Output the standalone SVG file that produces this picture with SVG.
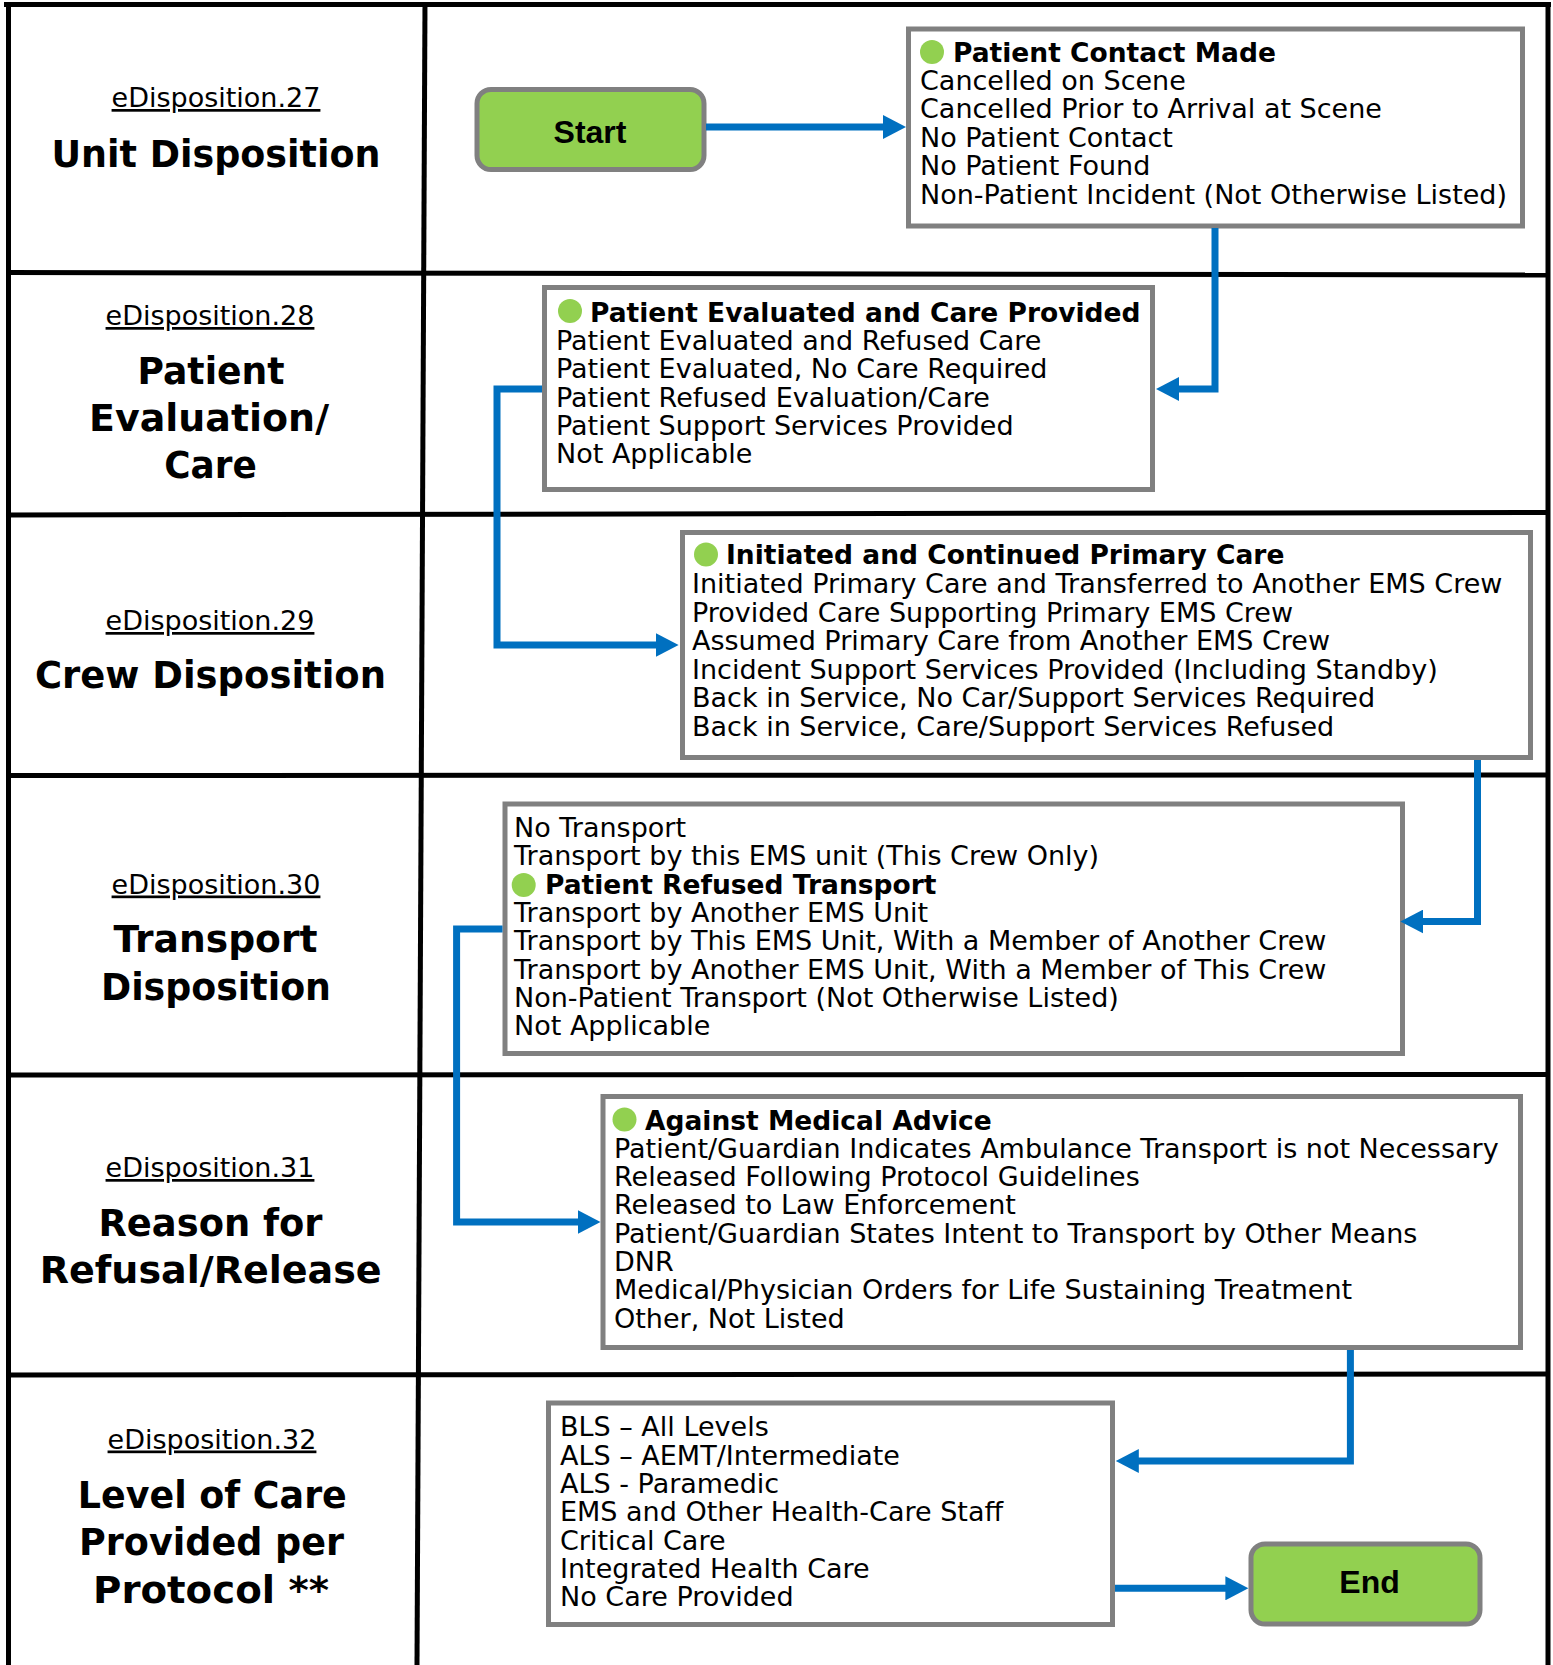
<svg xmlns="http://www.w3.org/2000/svg" width="1553" height="1665" viewBox="0 0 1553 1665">
<style>
.frame{stroke:#000;stroke-width:5;fill:none}
.box{fill:#fff;stroke:#808080;stroke-width:5}
.term{fill:#92D050;stroke:#808080;stroke-width:5}
.t{font-family:"DejaVu Sans","Verdana",sans-serif;font-size:27px;fill:#000}
.b{font-family:"DejaVu Sans","Verdana",sans-serif;font-size:26.5px;font-weight:bold;fill:#000}
.lbl{font-family:"DejaVu Sans","Verdana",sans-serif;font-size:27px;fill:#000;text-anchor:middle;text-decoration:underline}
.ttl{font-family:"DejaVu Sans","Verdana",sans-serif;font-size:37px;font-weight:bold;fill:#000;text-anchor:middle}
.termt{font-family:"Liberation Sans","Arial",sans-serif;font-size:32px;font-weight:bold;fill:#000;text-anchor:middle}
.dot{fill:#92D050}
.conn{fill:none;stroke:#0070C0;stroke-width:7;stroke-linejoin:miter;stroke-linecap:butt;marker-end:url(#ah)}
</style>
<defs>
<marker id="ah" markerUnits="userSpaceOnUse" markerWidth="24" markerHeight="24" refX="13" refY="12" orient="auto" viewBox="0 0 24 24">
<path d="M0,0 L23,12 L0,24 Z" fill="#0070C0"/>
</marker>
</defs>
<rect x="0" y="0" width="1553" height="1665" fill="#fff"/>
<g id="grid">
<line class="frame" x1="4" y1="4.5" x2="1551" y2="4.5"/>
<line class="frame" x1="8.5" y1="2" x2="8.5" y2="1665"/>
<line class="frame" x1="1548" y1="2" x2="1548" y2="1665"/>
<line class="frame" x1="425" y1="2" x2="417" y2="1665"/>
<line class="frame" x1="6" y1="272.5" x2="1550" y2="275"/>
<line class="frame" x1="6" y1="515" x2="1550" y2="512.5"/>
<line class="frame" x1="6" y1="775.5" x2="1550" y2="775"/>
<line class="frame" x1="6" y1="1075" x2="1550" y2="1074.5"/>
<line class="frame" x1="6" y1="1375" x2="1550" y2="1374"/>
</g>
<g id="row-labels">
<text class="lbl" x="216" y="107">eDisposition.27</text>
<text class="ttl" x="216" y="167" textLength="329" lengthAdjust="spacingAndGlyphs">Unit Disposition</text>
<text class="lbl" x="210" y="325">eDisposition.28</text>
<text class="ttl" x="211" y="384" textLength="147" lengthAdjust="spacingAndGlyphs">Patient</text>
<text class="ttl" x="209" y="431" textLength="240" lengthAdjust="spacingAndGlyphs">Evaluation/</text>
<text class="ttl" x="210.5" y="478" textLength="92.5" lengthAdjust="spacingAndGlyphs">Care</text>
<text class="lbl" x="210" y="630">eDisposition.29</text>
<text class="ttl" x="210.5" y="688" textLength="351" lengthAdjust="spacingAndGlyphs">Crew Disposition</text>
<text class="lbl" x="216" y="893.5">eDisposition.30</text>
<text class="ttl" x="215.5" y="952" textLength="204" lengthAdjust="spacingAndGlyphs">Transport</text>
<text class="ttl" x="216" y="1000" textLength="230" lengthAdjust="spacingAndGlyphs">Disposition</text>
<text class="lbl" x="210" y="1177">eDisposition.31</text>
<text class="ttl" x="210.5" y="1236" textLength="224" lengthAdjust="spacingAndGlyphs">Reason for</text>
<text class="ttl" x="210.7" y="1283" textLength="342" lengthAdjust="spacingAndGlyphs">Refusal/Release</text>
<text class="lbl" x="212" y="1448.5">eDisposition.32</text>
<text class="ttl" x="212.3" y="1508" textLength="269" lengthAdjust="spacingAndGlyphs">Level of Care</text>
<text class="ttl" x="211.5" y="1555" textLength="265" lengthAdjust="spacingAndGlyphs">Provided per</text>
<text class="ttl" x="211" y="1603" textLength="236" lengthAdjust="spacingAndGlyphs">Protocol **</text>
</g>
<g id="start">
<rect class="term" x="477" y="89.5" width="227" height="80" rx="14"/>
<text class="termt" x="590" y="142.5">Start</text>
</g>
<g id="unit-disposition">
<rect class="box" x="908.5" y="29" width="614" height="197"/>
<circle class="dot" cx="932" cy="52" r="12"/>
<text class="b" x="953" y="62">Patient Contact Made</text>
<text class="t" x="920" y="89.5">Cancelled on Scene</text>
<text class="t" x="920" y="118">Cancelled Prior to Arrival at Scene</text>
<text class="t" x="920" y="146.5">No Patient Contact</text>
<text class="t" x="920" y="175">No Patient Found</text>
<text class="t" x="920" y="203.5">Non-Patient Incident (Not Otherwise Listed)</text>
</g>
<g id="patient-evaluation">
<rect class="box" x="544.5" y="287.5" width="608" height="202"/>
<circle class="dot" cx="570" cy="311" r="12"/>
<text class="b" x="590" y="321.5">Patient Evaluated and Care Provided</text>
<text class="t" x="556" y="349.5">Patient Evaluated and Refused Care</text>
<text class="t" x="556" y="378">Patient Evaluated, No Care Required</text>
<text class="t" x="556" y="406.5">Patient Refused Evaluation/Care</text>
<text class="t" x="556" y="435">Patient Support Services Provided</text>
<text class="t" x="556" y="463">Not Applicable</text>
</g>
<g id="crew-disposition">
<rect class="box" x="682.5" y="532.5" width="848" height="225"/>
<circle class="dot" cx="706" cy="554.5" r="12"/>
<text class="b" x="726" y="564">Initiated and Continued Primary Care</text>
<text class="t" x="692" y="593">Initiated Primary Care and Transferred to Another EMS Crew</text>
<text class="t" x="692" y="621.5">Provided Care Supporting Primary EMS Crew</text>
<text class="t" x="692" y="650">Assumed Primary Care from Another EMS Crew</text>
<text class="t" x="692" y="678.5">Incident Support Services Provided (Including Standby)</text>
<text class="t" x="692" y="707">Back in Service, No Car/Support Services Required</text>
<text class="t" x="692" y="735.5">Back in Service, Care/Support Services Refused</text>
</g>
<g id="transport-disposition">
<rect class="box" x="505" y="804" width="897.5" height="249.5"/>
<text class="t" x="514" y="836.5">No Transport</text>
<text class="t" x="514" y="865">Transport by this EMS unit (This Crew Only)</text>
<circle class="dot" cx="523.7" cy="885" r="12"/>
<text class="b" x="545" y="893.5">Patient Refused Transport</text>
<text class="t" x="514" y="921.5">Transport by Another EMS Unit</text>
<text class="t" x="514" y="950">Transport by This EMS Unit, With a Member of Another Crew</text>
<text class="t" x="514" y="978.5">Transport by Another EMS Unit, With a Member of This Crew</text>
<text class="t" x="514" y="1006.5">Non-Patient Transport (Not Otherwise Listed)</text>
<text class="t" x="514" y="1035">Not Applicable</text>
</g>
<g id="refusal-release">
<rect class="box" x="603" y="1096.5" width="917.5" height="251"/>
<circle class="dot" cx="624.5" cy="1119.5" r="12"/>
<text class="b" x="645" y="1129.5">Against Medical Advice</text>
<text class="t" x="614" y="1157.5">Patient/Guardian Indicates Ambulance Transport is not Necessary</text>
<text class="t" x="614" y="1186">Released Following Protocol Guidelines</text>
<text class="t" x="614" y="1214">Released to Law Enforcement</text>
<text class="t" x="614" y="1242.5">Patient/Guardian States Intent to Transport by Other Means</text>
<text class="t" x="614" y="1271">DNR</text>
<text class="t" x="614" y="1299">Medical/Physician Orders for Life Sustaining Treatment</text>
<text class="t" x="614" y="1327.5">Other, Not Listed</text>
</g>
<g id="level-of-care">
<rect class="box" x="548.5" y="1403" width="564" height="221.5"/>
<text class="t" x="560" y="1436">BLS – All Levels</text>
<text class="t" x="560" y="1464.5">ALS – AEMT/Intermediate</text>
<text class="t" x="560" y="1492.5">ALS - Paramedic</text>
<text class="t" x="560" y="1521">EMS and Other Health-Care Staff</text>
<text class="t" x="560" y="1549.5">Critical Care</text>
<text class="t" x="560" y="1577.5">Integrated Health Care</text>
<text class="t" x="560" y="1606">No Care Provided</text>
</g>
<g id="end">
<rect class="term" x="1251" y="1544" width="229" height="80" rx="14"/>
<text class="termt" x="1369.5" y="1592.5">End</text>
</g>
<g id="connectors">
<path class="conn" d="M706,127 H896"/>
<path class="conn" d="M1215,228 V389 H1166"/>
<path class="conn" d="M542,389 H497 V645 H668.6"/>
<path class="conn" d="M1477.5,760 V921.5 H1410.3"/>
<path class="conn" d="M502.5,929 H456.6 V1222 H590.5"/>
<path class="conn" d="M1350.4,1350 V1461 H1125.8"/>
<path class="conn" d="M1115,1588.3 H1238.4"/>
</g>
</svg>
